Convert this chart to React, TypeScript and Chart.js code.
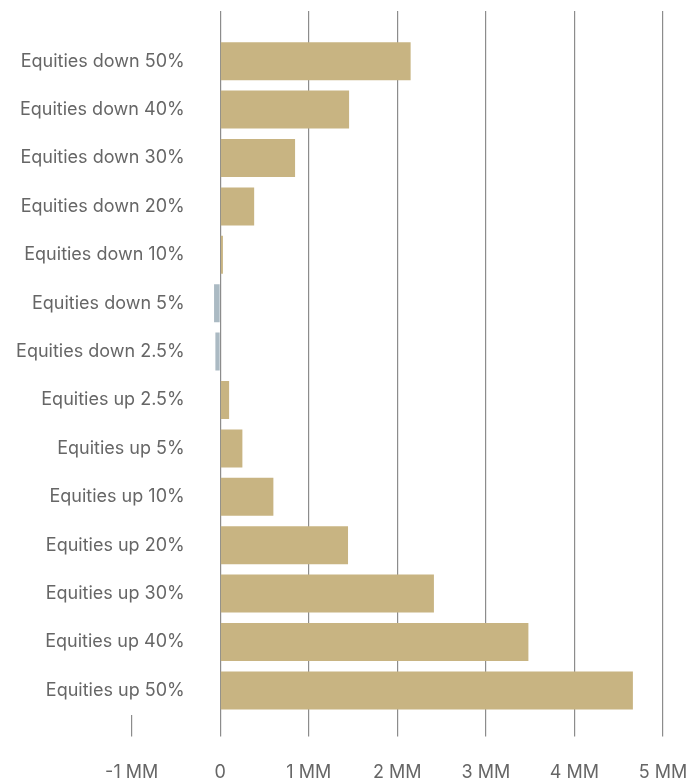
import React, { useEffect, useRef } from "react";
import { Chart, registerables } from "chart.js";

Chart.register(...registerables);

// Scenario labels, top to bottom
const scenarios: string[] = [
  "Equities down 50%",
  "Equities down 40%",
  "Equities down 30%",
  "Equities down 20%",
  "Equities down 10%",
  "Equities down 5%",
  "Equities down 2.5%",
  "Equities up 2.5%",
  "Equities up 5%",
  "Equities up 10%",
  "Equities up 20%",
  "Equities up 30%",
  "Equities up 40%",
  "Equities up 50%",
];

// Value per scenario, in millions
const valuesMM: number[] = [
  2.15, 1.455, 0.845, 0.383, 0.03, -0.07, -0.055, 0.1, 0.25, 0.6, 1.443, 2.413, 3.48, 4.66,
];

// Axis range and tick labels
const axisMin = -1;
const axisMax = 5;
const tickValues: number[] = [-1, 0, 1, 2, 3, 4, 5];
const tickLabels: string[] = ["-1 MM", "0", "1 MM", "2 MM", "3 MM", "4 MM", "5 MM"];

const GOLD = "#c8b482";
const SLATE = "#abbac3";
const GRID = "#8c8c8c";
const TEXT = "#666666";
const FONT = "Inter, 'Noto Sans', sans-serif";
const FONT_SIZE = 18;

// Width of the left label column and where its right edge sits
const LABEL_AXIS_WIDTH = 131.7;
const LABEL_RIGHT_EDGE = 184.7;
const RIGHT_GUTTER = 25;

function widestLabel(labels: string[]): number {
  const ctx = document.createElement("canvas").getContext("2d");
  if (!ctx) return 0;
  ctx.font = `normal ${FONT_SIZE}px ${FONT}`;
  return Math.max(...labels.map((l) => ctx.measureText(l).width));
}

export default function App() {
  const canvasRef = useRef<HTMLCanvasElement | null>(null);

  useEffect(() => {
    const canvas = canvasRef.current;
    if (!canvas) return;

    const hideFirst = (ctx: any) => (ctx.tick && ctx.tick.value === axisMin ? "rgba(0,0,0,0)" : GRID);
    const widest = widestLabel(scenarios);
    const fixedTicks = (scale: any) => {
      scale.ticks = tickValues.map((v) => ({ value: v }));
    };

    const chart = new Chart(canvas, {
      type: "bar",
      data: {
        labels: scenarios,
        datasets: [
          {
            data: valuesMM,
            backgroundColor: valuesMM.map((v) => (v < 0 ? SLATE : GOLD)),
            borderWidth: 0,
            barPercentage: 0.785,
            categoryPercentage: 1,
          },
        ],
      },
      options: {
        indexAxis: "y",
        responsive: false,
        animation: false,
        layout: { padding: { top: 11, right: 0, bottom: 0, left: 0 } },
        plugins: {
          legend: { display: false },
          tooltip: { enabled: false },
        },
        scales: {
          x: {
            type: "linear",
            position: "bottom",
            min: axisMin,
            max: axisMax,
            afterBuildTicks: fixedTicks,
            afterFit: (scale: any) => {
              scale.height = 67.4;
              scale.paddingLeft = 0;
              scale.paddingRight = RIGHT_GUTTER;
            },
            ticks: {
              callback: (v: any) => tickLabels[tickValues.indexOf(Number(v))] ?? "",
              color: TEXT,
              font: { family: FONT, size: FONT_SIZE },
              padding: 25,
              maxRotation: 0,
            },
            grid: {
              color: hideFirst,
              tickColor: GRID,
              tickLength: 22,
              lineWidth: 1.2,
            },
            border: { display: false },
          },
          xTop: {
            type: "linear",
            position: "top",
            min: axisMin,
            max: axisMax,
            afterBuildTicks: fixedTicks,
            afterFit: (scale: any) => {
              scale.paddingLeft = 0;
              scale.paddingRight = RIGHT_GUTTER;
            },
            ticks: { display: false },
            grid: {
              drawOnChartArea: false,
              tickColor: hideFirst,
              tickLength: 26,
              lineWidth: 1.2,
            },
            border: { display: false },
          },
          y: {
            type: "category",
            position: "left",
            afterFit: (scale: any) => {
              scale.width = LABEL_AXIS_WIDTH;
            },
            ticks: {
              color: TEXT,
              font: { family: FONT, size: FONT_SIZE },
              mirror: true,
              crossAlign: "far",
              padding: LABEL_RIGHT_EDGE - LABEL_AXIS_WIDTH - widest,
              autoSkip: false,
            },
            grid: { display: false, drawTicks: false },
            border: { display: false },
          },
        },
      },
    });

    return () => chart.destroy();
  }, []);

  return (
    <div style={{ position: "absolute", left: 0, top: 0, width: 688, height: 782, background: "#fff" }}>
      <canvas ref={canvasRef} width={688} height={782} style={{ display: "block" }} />
    </div>
  );
}
